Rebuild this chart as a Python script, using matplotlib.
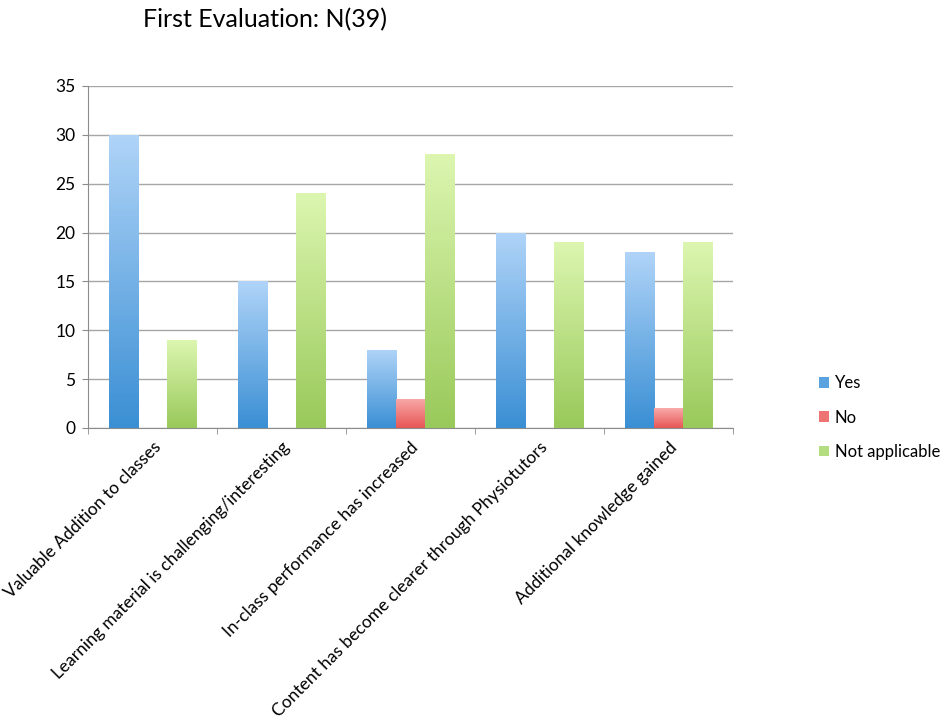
import numpy as np
import matplotlib.pyplot as plt
from matplotlib.patches import Patch
from matplotlib.colors import LinearSegmentedColormap

plt.rcParams['font.family'] = ['Lato', 'DejaVu Sans']

categories = ['Valuable Addition to classes',
              'Learning material is challenging/interesting',
              'In-class performance has increased',
              'Content has become clearer through Physiotutors',
              'Additional knowledge gained']
yes = [30, 15, 8, 20, 18]
no = [0, 0, 3, 0, 2]
not_applicable = [9, 24, 28, 19, 19]
series_names = ['Yes', 'No', 'Not applicable']

#  (top colour, bottom colour) for the gradient fill of each series
grads = [('#b0d4f8', '#3a8fd4'),
         ('#f9aaaa', '#e85656'),
         ('#dcf6b0', '#99c95a')]
legend_colors = ['#5aa2e0', '#ee7474', '#b4dc80']


def grad_bars(ax, x, vals, width, c_top, c_bot):
    cmap = LinearSegmentedColormap.from_list('g', [c_bot, c_top])
    grad = np.linspace(0, 1, 256).reshape(-1, 1)
    bars = ax.bar(x, vals, width, color='none', edgecolor='none')
    for b in bars:
        if b.get_height() <= 0:
            continue
        x0, y0 = b.get_x(), b.get_y()
        im = ax.imshow(grad, cmap=cmap, origin='lower', aspect='auto',
                       extent=[x0, x0 + b.get_width(), y0, y0 + b.get_height()],
                       zorder=2)
        im.set_clip_path(b)
    return bars


fig = plt.figure(figsize=(9.48, 7.2), dpi=100)
ax = fig.add_axes([0.0928, 0.4056, 0.6804, 0.475])

x = np.arange(len(categories))
w = 0.225
for i, vals in enumerate([yes, no, not_applicable]):
    grad_bars(ax, x + (i - 1) * w, vals, w, *grads[i])

ax.set_xlim(-0.5, len(categories) - 0.5)
ax.set_ylim(0, 35)
ax.set_yticks(range(0, 36, 5))
ax.yaxis.grid(True, color='#a6a6a6', linewidth=1)
ax.set_axisbelow(True)

ax.set_xticks(x)
ax.set_xticklabels(categories, rotation=45, ha='right',
                   rotation_mode='anchor', fontsize=12.5)
ax.set_xticks(np.arange(-0.5, len(categories)), minor=True)
ax.tick_params(axis='x', which='major', length=0, pad=8)
ax.tick_params(axis='x', which='minor', length=4, color='#8c8c8c')
ax.tick_params(axis='y', length=4, color='#8c8c8c', labelsize=12.5, pad=5)

for s in ['top', 'right']:
    ax.spines[s].set_visible(False)
for s in ['left', 'bottom']:
    ax.spines[s].set_color('#8c8c8c')

fig.text(0.151, 0.973, 'First Evaluation: N(39)', fontsize=18,
         ha='left', va='center')

handles = [Patch(facecolor=c, edgecolor='none') for c in legend_colors]
fig.legend(handles, series_names, loc='center left',
           bbox_to_anchor=(0.864, 0.42), frameon=False, fontsize=12,
           handlelength=0.6, handleheight=0.6, handletextpad=0.35,
           labelspacing=1.1, borderaxespad=0, borderpad=0)

fig.savefig('out.png', dpi=100)
